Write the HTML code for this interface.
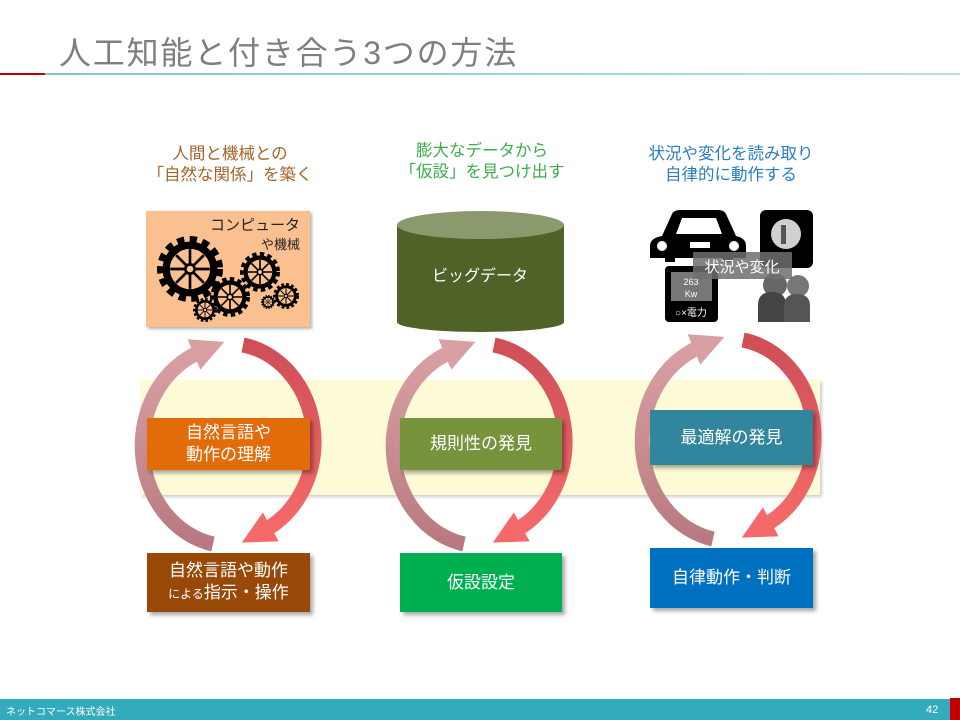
<!DOCTYPE html>
<html><head><meta charset="utf-8"><style>
body{margin:0;width:960px;height:720px;overflow:hidden;background:#fff;font-family:"Liberation Sans","Noto Sans CJK JP",sans-serif;position:relative}
.a{position:absolute}
.box{position:absolute;color:#fff;display:flex;align-items:center;justify-content:center;text-align:center;font-size:17px;line-height:22px;box-shadow:3px 3px 4px rgba(0,0,0,.35)}
.hd{position:absolute;text-align:center;font-size:16.5px;line-height:21px;width:240px}
</style></head><body>
<div class="a" style="left:59px;top:28px;font-size:32px;color:#7f7f7f;letter-spacing:1.8px">人工知能と付き合う3つの方法</div>
<div class="a" style="left:0;top:73px;width:45px;height:2px;background:#c00000"></div>
<div class="a" style="left:45px;top:73px;width:915px;height:2px;background:linear-gradient(90deg,#7cc7cc,#b9e2e4)"></div>

<div class="a" style="left:140px;top:380px;width:680px;height:115px;background:#fdfad6;box-shadow:2px 2px 3px rgba(0,0,0,.2)"></div>

<div class="hd" style="left:110px;top:144px;color:#a3642c">人間と機械との<br>「自然な関係」を築く</div>
<div class="hd" style="left:362px;top:141px;color:#3aad4c">膨大なデータから<br>「仮設」を見つけ出す</div>
<div class="hd" style="left:611px;top:144px;color:#2a7cc0">状況や変化を読み取り<br>自律的に動作する</div>

<div class="a" style="left:146px;top:211px;width:164px;height:116px;background:#fac090;box-shadow:2px 2px 3px rgba(0,0,0,.3)"></div>
<div class="a" style="left:190px;top:216px;width:110px;text-align:right;font-size:15px;line-height:19px;color:#222">コンピュータ<br><span style="font-size:13px">や機械</span></div>

<svg class="a" style="left:0;top:0" width="960" height="720">
<defs>
<g id="gear"><circle r="0.82" fill="none" stroke="#000" stroke-width="0.36" stroke-dasharray="0.2 0.15"/><circle r="0.72" fill="none" stroke="#000" stroke-width="0.22"/><g stroke="#000" stroke-width="0.08"><line x1="-0.6" y1="0" x2="0.6" y2="0"/><line x1="0" y1="-0.6" x2="0" y2="0.6"/><line x1="-0.42" y1="-0.42" x2="0.42" y2="0.42"/><line x1="-0.42" y1="0.42" x2="0.42" y2="-0.42"/></g><circle r="0.14" fill="#fac090" stroke="#000" stroke-width="0.08"/></g>
<marker id="m1" viewBox="0 0 10 10" refX="2" refY="5" markerWidth="2.2" markerHeight="2.4" orient="auto"><path d="M0,0L10,5L0,10z" fill="#d9a0a4"/></marker>
<marker id="m2" viewBox="0 0 10 10" refX="2" refY="5" markerWidth="2.2" markerHeight="2.4" orient="auto"><path d="M0,0L10,5L0,10z" fill="#f46a6a"/></marker>
<linearGradient id="gl" x1="0" y1="0" x2="0" y2="1"><stop offset="0" stop-color="#d9a0a4"/><stop offset="1" stop-color="#b87a80"/></linearGradient>
<linearGradient id="gr" x1="0" y1="0" x2="0" y2="1"><stop offset="0" stop-color="#cf4f58"/><stop offset="1" stop-color="#f46a6a"/></linearGradient>
</defs>
<g transform="translate(190,269) scale(33)"><use href="#gear"/></g>
<g transform="translate(260,272) scale(20)"><use href="#gear"/></g>
<g transform="translate(230,297) scale(20)"><use href="#gear"/></g>
<g transform="translate(286,296) scale(13)"><use href="#gear"/></g>
<g transform="translate(205,310) scale(12)"><use href="#gear"/></g>
<g transform="translate(268,302) scale(7)"><use href="#gear"/></g>

<rect x="397" y="225" width="167" height="97" fill="#4f6228"/>
<ellipse cx="480.5" cy="322" rx="83.5" ry="10" fill="#4f6228"/>
<ellipse cx="480.5" cy="225" rx="83.5" ry="14" fill="#8a9a6c"/>
<text x="480" y="281" fill="#fff" font-size="16" text-anchor="middle">ビッグデータ</text>

<path d="M662,236 L672,214 Q674,210 680,210 L718,210 Q724,210 726,214 L736,236 Q746,238 746,246 L746,258 L733,258 L733,262 L723,262 L723,258 L675,258 L675,262 L665,262 L665,258 L650,258 L650,246 Q650,238 662,236Z" fill="#000"/>
<path d="M676,234 L682,218 L716,218 L722,234Z" fill="#fff"/>
<circle cx="662" cy="246" r="5" fill="#fff"/><circle cx="734" cy="246" r="5" fill="#fff"/>
<rect x="690" y="242" width="20" height="6" fill="#fff"/>
<rect x="760" y="210" width="53" height="58" rx="6" fill="#000"/>
<circle cx="786" cy="234" r="15" fill="#d0d0d0"/>
<rect x="781" y="225" width="5" height="19" fill="#555"/>
<rect x="665" y="266" width="53" height="56" rx="4" fill="#000"/>
<rect x="671" y="272" width="41" height="29" fill="#777"/>
<text x="691" y="285" fill="#fff" font-size="9" text-anchor="middle">263</text>
<text x="691" y="297" fill="#fff" font-size="9" text-anchor="middle">Kw</text>
<text x="691" y="316" fill="#fff" font-size="10" text-anchor="middle">○×電力</text>
<circle cx="775" cy="285" r="12" fill="#666"/><circle cx="798" cy="286" r="11" fill="#777"/>
<path d="M758,322 L758,305 Q758,292 772,292 Q786,292 786,305 L786,322Z" fill="#444"/>
<path d="M784,322 L784,306 Q784,294 797,294 Q810,294 810,306 L810,322Z" fill="#555"/>
<rect x="693" y="252" width="99" height="27" fill="rgba(110,110,110,0.85)"/>
<text x="742" y="272" fill="#fff" font-size="15" text-anchor="middle">状況や変化</text>

<g fill="none" stroke-width="15">
<path d="M213,544 A88 100 0 0 1 200,352" stroke="url(#gl)" marker-end="url(#m1)"/>
<path d="M243,345 A86 98 0 0 1 265,530" stroke="url(#gr)" marker-end="url(#m2)"/>
<path d="M464,544 A88 100 0 0 1 451,352" stroke="url(#gl)" marker-end="url(#m1)"/>
<path d="M494,345 A86 98 0 0 1 516,530" stroke="url(#gr)" marker-end="url(#m2)"/>
<path d="M713,539 A88 100 0 0 1 700,347" stroke="url(#gl)" marker-end="url(#m1)"/>
<path d="M743,340 A86 98 0 0 1 765,525" stroke="url(#gr)" marker-end="url(#m2)"/>
</g>
</svg>

<div class="box" style="left:147px;top:418px;width:163px;height:52px;background:#e36c0a"><div>自然言語や<br>動作の理解</div></div>
<div class="box" style="left:400px;top:418px;width:162px;height:52px;background:#77933c">規則性の発見</div>
<div class="box" style="left:650px;top:410px;width:163px;height:55px;background:#31859c">最適解の発見</div>
<div class="box" style="left:147px;top:553px;width:163px;height:59px;background:#984807"><div>自然言語や動作<br><span style="font-size:12px">による</span>指示・操作</div></div>
<div class="box" style="left:400px;top:553px;width:162px;height:59px;background:#00b050">仮設設定</div>
<div class="box" style="left:650px;top:548px;width:163px;height:60px;background:#0070c0">自律動作・判断</div>

<div class="a" style="left:0;top:699px;width:950px;height:21px;background:#33abbd"></div>
<div class="a" style="left:950px;top:698px;width:10px;height:22px;background:#c00000"></div>
<div class="a" style="left:6px;top:703px;font-size:10px;color:#fff">ネットコマース株式会社</div>
<div class="a" style="left:926px;top:704px;font-size:11px;color:#fff">42</div>
</body></html>
